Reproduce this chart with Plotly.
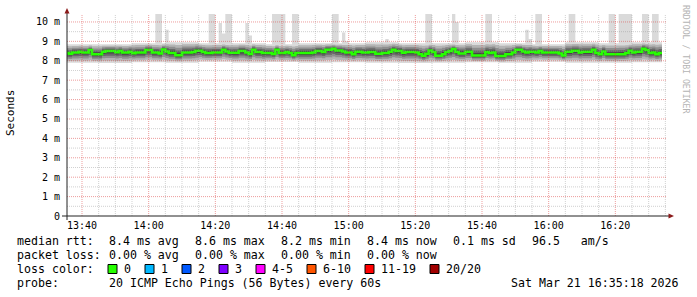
import plotly.graph_objects as go
import pandas as pd

# ---------------- data ----------------
START = "2026-03-21 13:35:00"          # first 60 s interval
STEP_MIN = 1
# median RTT per 60 s step (ms)
median_ms = [
    8.40, 8.36, 8.43, 8.43, 8.46, 8.43, 8.43, 8.55, 8.33, 8.33,
    8.33, 8.47, 8.50, 8.50, 8.50, 8.44, 8.50, 8.42, 8.42, 8.47,
    8.39, 8.43, 8.43, 8.43, 8.55, 8.55, 8.43, 8.43, 8.38, 8.58,
    8.48, 8.40, 8.40, 8.28, 8.28, 8.43, 8.43, 8.43, 8.45, 8.52,
    8.52, 8.45, 8.40, 8.40, 8.43, 8.43, 8.43, 8.57, 8.48, 8.41,
    8.41, 8.41, 8.50, 8.50, 8.43, 8.35, 8.57, 8.45, 8.45, 8.40,
    8.40, 8.40, 8.35, 8.57, 8.40, 8.40, 8.45, 8.40, 8.29, 8.40,
    8.40, 8.40, 8.40, 8.40, 8.43, 8.50, 8.50, 8.45, 8.57, 8.57,
    8.62, 8.53, 8.53, 8.48, 8.43, 8.43, 8.34, 8.46, 8.46, 8.43,
    8.43, 8.45, 8.45, 8.36, 8.36, 8.40, 8.40, 8.46, 8.57, 8.50,
    8.50, 8.41, 8.45, 8.45, 8.45, 8.43, 8.34, 8.26, 8.36, 8.53,
    8.45, 8.26, 8.26, 8.34, 8.45, 8.50, 8.60, 8.45, 8.38, 8.38,
    8.46, 8.46, 8.27, 8.27, 8.27, 8.27, 8.45, 8.40, 8.43, 8.24,
    8.24, 8.24, 8.34, 8.34, 8.43, 8.57, 8.57, 8.48, 8.43, 8.46,
    8.46, 8.43, 8.50, 8.43, 8.43, 8.43, 8.43, 8.43, 8.38, 8.27,
    8.46, 8.46, 8.52, 8.52, 8.43, 8.46, 8.46, 8.46, 8.57, 8.40,
    8.33, 8.48, 8.33, 8.33, 8.33, 8.33, 8.34, 8.34, 8.40, 8.52,
    8.43, 8.46, 8.46, 8.62, 8.55, 8.40, 8.43, 8.34, 8.40,
]
# outer extent of the smoke (lowest ping / high ping) per 10-minute block (ms)
smoke_low_ms = [7.90, 7.88, 7.92, 7.90, 7.95, 7.90, 7.93, 7.90, 7.92,
                7.90, 7.88, 7.90, 7.92, 7.90, 7.95, 7.90, 7.90, 7.92]
smoke_high_ms = [8.85, 8.85, 8.90, 8.95, 8.90, 8.90, 8.85, 8.90, 8.90,
                 8.95, 8.90, 8.90, 8.95, 8.90, 8.85, 8.95, 8.90, 8.95]
# max-ping outliers: step index and value (ms); >10.4 are clipped at top
spike_step = [27, 28, 30, 43, 44, 46, 47, 48, 49, 54, 55, 62, 63, 64, 65,
              68, 69, 80, 81, 83, 84, 96, 108, 109, 116, 117, 126, 127,
              138, 139, 141, 142, 151, 152, 163, 164, 166, 167, 168, 169,
              173, 174, 176, 177]
spike_ms = [11.5, 11.5, 9.6, 11.5, 11.5, 9.95, 9.4, 11.5, 11.5, 9.95, 9.3,
            11.5, 11.5, 11.5, 11.5, 11.5, 11.5, 11.5, 11.5, 9.46, 9.0, 9.12,
            11.5, 11.5, 11.5, 10.0, 11.5, 11.5, 9.6, 9.12, 11.5, 11.5,
            11.5, 11.5, 11.5, 11.5, 11.5, 11.5, 11.5, 11.5, 11.5, 11.5,
            11.5, 11.5]

y_tick_vals = [0, 1, 2, 3, 4, 5, 6, 7, 8, 9, 10]
y_tick_text = ["0", "1 m", "2 m", "3 m", "4 m", "5 m", "6 m", "7 m", "8 m", "9 m", "10 m"]

loss_labels = ["0", "1", "2", "3", "4-5", "6-10", "11-19", "20/20"]
loss_colors = ["#26ff00", "#00b8ff", "#0059ff", "#7e00ff", "#ff00ff",
               "#ff5500", "#ff0000", "#a10000"]

rtt_items = ["8.4 ms avg", "8.6 ms max", "8.2 ms min", "8.4 ms now",
             "0.1 ms sd", "96.5   am/s"]
loss_items = ["0.00 % avg", "0.00 % max", "0.00 % min", "0.00 % now"]
probe_text = "20 ICMP Echo Pings (56 Bytes) every 60s"
date_text = "Sat Mar 21 16:35:18 2026"

# ---------------- derived ----------------
n = len(median_ms)
t0 = pd.Timestamp(START)
times = [t0 + pd.Timedelta(minutes=k * STEP_MIN) for k in range(n + 1)]
low = [smoke_low_ms[k // 10] for k in range(n)]
high = [smoke_high_ms[k // 10] for k in range(n)]
spikes = dict(zip(spike_step, spike_ms))
top = [max(high[k], spikes.get(k, 0)) for k in range(n)]


def ext(a):
    return list(a) + [a[-1]]


fig = go.Figure()


def band(lo, hi, color):
    fig.add_trace(go.Scatter(x=times, y=ext(lo), mode="lines", line=dict(width=0, shape="hv"),
                             hoverinfo="skip", showlegend=False))
    fig.add_trace(go.Scatter(x=times, y=ext(hi), mode="lines", line=dict(width=0, shape="hv"),
                             fill="tonexty", fillcolor=color, hoverinfo="skip", showlegend=False))


# outermost smoke incl. max-ping spikes
band(low, top, "#dadada")
layer_frac = [0.8, 0.58, 0.38, 0.2]
layer_col = ["#b4b4b4", "#8e8e8e", "#686868", "#464646"]
for f, c in zip(layer_frac, layer_col):
    lo = [median_ms[k] - f * (median_ms[k] - low[k]) for k in range(n)]
    hi = [median_ms[k] + f * (high[k] - median_ms[k]) for k in range(n)]
    band(lo, hi, c)

fig.add_trace(go.Scatter(x=times, y=ext(median_ms), mode="lines",
                         line=dict(color="#26ff00", width=2.5, shape="hv"),
                         showlegend=False))

# ---------------- layout geometry ----------------
W, H = 697, 297
L, R, T, B = 67, 667, 14, 216
PW, PH = R - L, B - T


def px(x):
    return (x - L) / PW


def py(y):
    return (B - y) / PH


x0 = pd.Timestamp("2026-03-21 13:35:30")
x1 = pd.Timestamp("2026-03-21 16:35:30")
ymax = 10.41

shapes = []
# grid (drawn above the smoke, like rrdtool)
t = pd.Timestamp("2026-03-21 13:40:00")
while t < x1:
    major = (t.minute % 20 == 0)
    shapes.append(dict(type="line", xref="x", yref="y", x0=t, x1=t, y0=0, y1=ymax,
                       layer="above",
                       line=dict(color="rgba(220,60,60,0.5)" if major else "rgba(150,150,150,0.45)",
                                 width=1, dash="1px,1px")))
    t += pd.Timedelta(minutes=5)
for k in range(1, 21):
    yv = k * 0.5
    major = (k % 2 == 0)
    shapes.append(dict(type="line", xref="x", yref="y", x0=x0, x1=x1, y0=yv, y1=yv,
                       layer="above",
                       line=dict(color="rgba(220,60,60,0.5)" if major else "rgba(150,150,150,0.45)",
                                 width=1, dash="1px,1px")))
# axes + arrows
shapes.append(dict(type="line", xref="paper", yref="paper", x0=px(62), x1=px(669), y0=py(216), y1=py(216),
                   line=dict(color="#222222", width=1), layer="above"))
shapes.append(dict(type="line", xref="paper", yref="paper", x0=px(67), x1=px(67), y0=py(220), y1=py(12),
                   line=dict(color="#222222", width=1), layer="above"))
shapes.append(dict(type="path", xref="paper", yref="paper",
                   path=f"M {px(64.5)} {py(13.5)} L {px(69.5)} {py(13.5)} L {px(67)} {py(8)} Z",
                   fillcolor="#8b1a1a", line=dict(width=0), layer="above"))
shapes.append(dict(type="path", xref="paper", yref="paper",
                   path=f"M {px(668.5)} {py(213.5)} L {px(668.5)} {py(218.5)} L {px(674)} {py(216)} Z",
                   fillcolor="#8b1a1a", line=dict(width=0), layer="above"))

MONO = "DejaVu Sans Mono"
FS = 11.6
ann = []


def text(x, y, s, size=FS, color="#000000", anchor="left", angle=0):
    ann.append(dict(xref="paper", yref="paper", x=px(x), y=py(y), text=s, showarrow=False,
                    xanchor=anchor, yanchor="middle", textangle=angle,
                    font=dict(family=MONO, size=size, color=color)))


ROW = [241.5, 255.0, 269.0, 283.0]
COL = [106.5, 192.5, 278.5, 364.5, 450.5, 529.5]
text(15, ROW[0], "median rtt:")
for x, s in zip(COL, rtt_items):
    text(x, ROW[0], s.replace(" ", "&nbsp;") if "   " in s else s)
text(15, ROW[1], "packet loss:")
for x, s in zip(COL, loss_items):
    text(x, ROW[1], s)
text(15, ROW[2], "loss color:")
bx = 108
for lab, col in zip(loss_labels, loss_colors):
    shapes.append(dict(type="rect", xref="paper", yref="paper",
                       x0=px(bx), x1=px(bx + 9), y0=py(ROW[2] + 4.5), y1=py(ROW[2] - 4.5),
                       fillcolor=col, line=dict(color="#000000", width=1)))
    text(bx + 14, ROW[2], lab)
    bx = bx + 15 + len(lab) * 7 + 15
text(15, ROW[3], "probe:")
text(106.5, ROW[3], probe_text)
text(681, ROW[3], date_text, anchor="right")

text(10, 113, "Seconds", size=11, angle=-90, anchor="center")
text(686, 59, "RRDTOOL / TOBI OETIKER", size=8.2, color="#b4b4b4", angle=90, anchor="center")

fig.update_layout(
    width=W, height=H, autosize=False,
    margin=dict(l=L, r=W - R, t=T, b=H - B, pad=0),
    paper_bgcolor="#ffffff", plot_bgcolor="#ffffff",
    shapes=shapes, annotations=ann, showlegend=False,
    xaxis=dict(type="date", range=[x0, x1], tick0="2026-03-21 13:40:00", dtick=20 * 60 * 1000,
               tickformat="%H:%M", showgrid=False, zeroline=False, showline=False,
               ticks="", ticklabelstandoff=2,
               tickfont=dict(family=MONO, size=10, color="#000000")),
    yaxis=dict(range=[0, ymax], tickvals=y_tick_vals, ticktext=y_tick_text,
               showgrid=False, zeroline=False, showline=False, ticks="",
               ticklabelstandoff=6,
               tickfont=dict(family=MONO, size=10, color="#000000")),
)

fig.write_html("out.html")
